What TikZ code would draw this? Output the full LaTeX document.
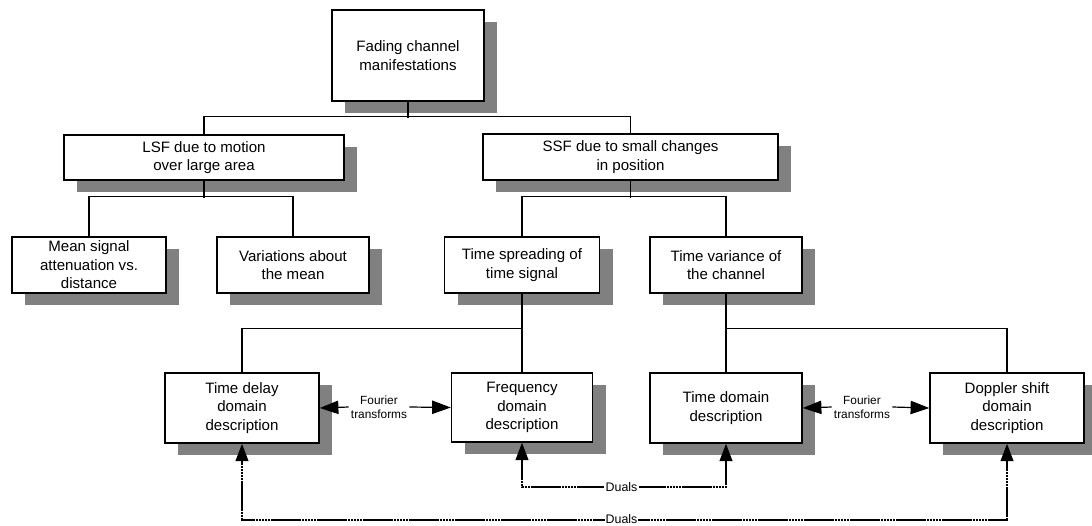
\documentclass[tikz,border=0pt]{standalone}
\usepackage{fontspec}
\setmainfont{Liberation Sans}
\usetikzlibrary{shadows,arrows.meta}
\begin{document}
\begin{tikzpicture}[x=0.75pt,y=-0.75pt,
  box/.style={draw,line width=1.1pt,fill=white,inner sep=0pt,align=center,
    font=\fontsize{11.3}{13.8}\selectfont,
    drop shadow={shadow xshift=9.75pt,shadow yshift=-9pt,fill=black!50,opacity=1}},
  conn/.style={line width=0.9pt},
  arr/.style={line width=0.9pt,-{Triangle[length=14pt,width=10pt]}},
  dotarr/.style={line width=1.5pt,dash pattern=on 2pt off 0.3pt,-{Triangle[length=13pt,width=9.5pt]}},
  small/.style={align=center,inner sep=1.5pt,font=\fontsize{8.9}{10.5}\selectfont},
  duals/.style={fill=white,inner sep=1pt,font=\fontsize{9.3}{11}\selectfont}]
\useasboundingbox (0,0) rectangle (1092,525);

\node[box,minimum width=114pt,minimum height=68.25pt] (top) at (408,55.5) {Fading channel\\manifestations};
\node[box,minimum width=210pt,minimum height=33.75pt] (lsf) at (204,157.5) {LSF due to motion\\over large area};
\node[box,minimum width=221.25pt,minimum height=34.5pt] (ssf) at (630.5,157) {SSF due to small changes\\in position};
\node[box,minimum width=115.5pt,minimum height=42pt] (mean) at (89,265) {Mean signal\\attenuation vs.\\distance};
\node[box,minimum width=114pt,minimum height=42pt] (var) at (293,265) {Variations about\\the mean};
\node[box,minimum width=116.25pt,minimum height=42pt] (tsp) at (522,265) {Time spreading of\\time signal};
\node[box,minimum width=114pt,minimum height=42pt] (tvc) at (726,265) {Time variance of\\the channel};
\node[box,minimum width=115.5pt,minimum height=52.5pt] (delay) at (242,408) {Time delay\\domain\\description};
\node[box,minimum width=105.75pt,minimum height=51.75pt] (freq) at (522,407.5) {Frequency\\domain\\description};
\node[box,minimum width=114pt,minimum height=52.5pt] (tdom) at (726,408) {Time domain\\description};
\node[box,minimum width=115.5pt,minimum height=52.5pt] (dop) at (1007,408) {Doppler shift\\domain\\description};

% tree connectors
\draw[conn] (top.south) -- ++(0,16);
\draw[conn] (lsf.north) -- ++(0,-18) -| (ssf.north);
\draw[conn] (lsf.south) -- ++(0,17);
\draw[conn] (mean.north) -- ++(0,-40) -| (var.north);
\draw[conn] (ssf.south) -- ++(0,17);
\draw[conn] (tsp.north) -- ++(0,-40) -| (tvc.north);
\draw[conn] (tsp.south) -- (freq.north);
\draw[conn] (delay.north) -- ++(0,-44) -| (freq.north);
\draw[conn] (tvc.south) -- (tdom.north);
\draw[conn] (tdom.north) -- ++(0,-44) -| (dop.north);

% Fourier transforms
\node[small] (ft1) at (379,407) {Fourier\\transforms};
\draw[arr] (ft1.west) -- (delay.east);
\draw[arr] (ft1.east) -- (freq.west);
\node[small] (ft2) at (862,407) {Fourier\\transforms};
\draw[arr] (ft2.west) -- (tdom.east);
\draw[arr] (ft2.east) -- (dop.west);

% Duals
\node[duals] (d1) at (621.5,487) {Duals};
\draw[dotarr] (d1.west) -| (freq.south);
\draw[dotarr] (d1.east) -| (tdom.south);
\node[duals,inner sep=0.5pt] (d2) at (621.5,519.5) {Duals};
\draw[dotarr] (d2.west) -| (delay.south);
\draw[dotarr] (d2.east) -| (dop.south);
\end{tikzpicture}
\end{document}
